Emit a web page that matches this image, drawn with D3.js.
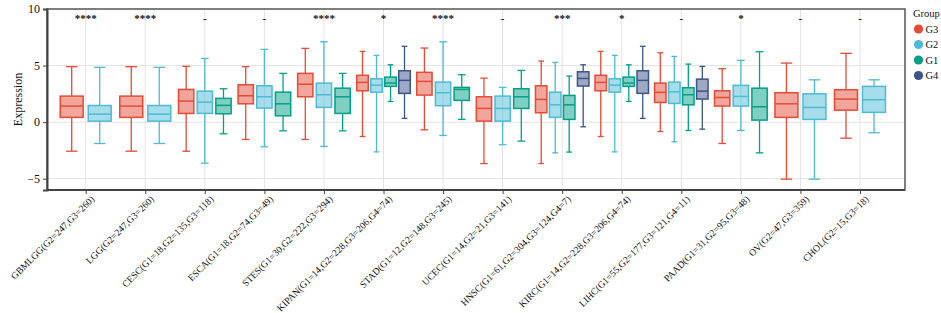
<!DOCTYPE html>
<html><head><meta charset="utf-8">
<script src="https://cdn.jsdelivr.net/npm/d3@7"></script>
<style>body{margin:0;background:#fff}svg{display:block}text{font-family:"Liberation Serif","DejaVu Serif",serif;fill:#111}</style>
</head><body><svg id="c" width="941" height="313"></svg>
<script>
const categories = ["GBMLGG(G2=247,G3=260)","LGG(G2=247,G3=260)","CESC(G1=18,G2=135,G3=118)","ESCA(G1=18,G2=74,G3=49)","STES(G1=30,G2=222,G3=294)","KIPAN(G1=14,G2=228,G3=206,G4=74)","STAD(G1=12,G2=148,G3=245)","UCEC(G1=14,G2=21,G3=141)","HNSC(G1=61,G2=304,G3=124,G4=7)","KIRC(G1=14,G2=228,G3=206,G4=74)","LIHC(G1=55,G2=177,G3=121,G4=11)","PAAD(G1=31,G2=95,G3=48)","OV(G2=47,G3=359)","CHOL(G2=15,G3=18)"];
const significance = ["****","****","-","-","****","*","****","-","***","*","-","*","-","-"];
const groups = ["G3","G2","G1","G4"];
const groupColors = ["#E64B35","#4DBBD5","#00A087","#3C5488"];
// [whisker low, Q1, median, Q3, whisker high]
const g3Stats = [
 [-2.57,0.42,1.42,2.30,4.90],[-2.57,0.42,1.42,2.30,4.90],[-2.57,0.77,1.86,2.89,4.93],[-1.53,1.62,2.33,3.30,4.90],
 [-1.53,2.24,3.35,4.31,6.52],[-1.27,2.77,3.51,4.14,6.25],[-0.68,2.39,3.60,4.40,6.55],[-3.66,0.09,1.21,2.24,3.89],
 [-3.66,0.83,2.01,3.21,5.40],[-1.27,2.77,3.51,4.14,6.25],[-0.83,1.74,2.63,3.45,6.13],[-1.89,1.42,2.18,2.77,4.72],
 [-5.04,0.42,1.62,2.60,5.22],[-1.42,1.06,2.04,2.86,6.08]];
const g2Stats = [
 [-1.89,0.09,0.71,1.47,4.84],[-1.89,0.09,0.71,1.47,4.84],[-3.63,0.77,1.77,2.74,5.63],[-2.18,1.24,2.24,3.21,6.43],
 [-2.15,1.30,2.42,3.45,7.10],[-2.63,2.65,3.27,3.83,5.90],[-1.18,1.45,2.60,3.54,7.10],[-2.00,0.09,1.21,2.30,3.07],
 [-2.72,0.42,1.53,2.65,5.28],[-2.63,2.65,3.27,3.83,5.90],[-1.74,1.65,2.68,3.54,5.81],[-0.74,1.42,2.27,3.25,5.46],
 [-5.04,0.24,1.30,2.50,3.74],[-0.94,0.86,1.98,3.16,3.74]];
const g1Stats = [
 null,null,[-1.03,0.74,1.48,2.10,2.95],[-0.77,0.56,1.62,2.65,4.31],
 [-0.77,0.77,2.24,3.00,4.31],[1.83,3.16,3.45,3.98,5.07],[0.24,1.92,2.89,3.07,4.19],[-1.68,1.21,2.24,2.95,4.57],
 [-2.65,0.24,1.53,2.36,4.07],[1.83,3.16,3.45,3.98,5.07],[-0.74,1.53,2.42,3.04,5.13],[-2.72,0.18,1.36,3.00,6.22],
 null,null];
const g4Stats = [
 null,null,null,null,null,[0.33,2.54,3.69,4.54,6.70],null,null,
 [-0.41,3.19,3.86,4.45,5.07],[0.33,2.54,3.69,4.54,6.70],[-0.62,2.04,2.74,3.80,4.93],null,null,null];
const yTicks = [-5,0,5,10];
const allStats = [g3Stats,g2Stats,g1Stats,g4Stats];

const svg = d3.select("#c");
const L=47,R=905,T=9,B=190;
const x = d3.scalePoint().domain(categories).range([85.7,860]);
const y = d3.scaleLinear().domain([-6,10]).range([B,T]);

// grid
svg.append("g").selectAll("line").data(yTicks.filter(d=>d<10)).join("line")
 .attr("x1",L).attr("x2",R).attr("y1",d=>y(d)).attr("y2",d=>y(d)).attr("stroke","#e3e3e3").attr("stroke-width",1);
svg.append("g").selectAll("line").data(categories).join("line")
 .attr("x1",d=>x(d)).attr("x2",d=>x(d)).attr("y1",T).attr("y2",B).attr("stroke","#e3e3e3").attr("stroke-width",1);
// frame
svg.append("rect").attr("x",L).attr("y",T).attr("width",R-L).attr("height",B-T).attr("fill","none").attr("stroke","#555").attr("stroke-width",1.5);

// boxes
const dodge = 56;
categories.forEach((c,i)=>{
  const present = [];
  allStats.forEach((s,g)=>{ if(s[i]) present.push(g); });
  const n = present.length, slot = dodge/n, bw = slot*0.82;
  present.forEach((g,k)=>{
    const s = allStats[g][i], col = groupColors[g];
    const cx = x(c) - dodge/2 + slot*(k+0.5);
    const gg = svg.append("g");
    gg.append("line").attr("x1",cx).attr("x2",cx).attr("y1",y(s[0])).attr("y2",y(s[1])).attr("stroke",col).attr("stroke-width",1.3);
    gg.append("line").attr("x1",cx).attr("x2",cx).attr("y1",y(s[3])).attr("y2",y(s[4])).attr("stroke",col).attr("stroke-width",1.3);
    [s[0],s[4]].forEach(v=>gg.append("line").attr("x1",cx-bw/4).attr("x2",cx+bw/4).attr("y1",y(v)).attr("y2",y(v)).attr("stroke",col).attr("stroke-width",1.3));
    gg.append("rect").attr("x",cx-bw/2).attr("width",bw).attr("y",y(s[3])).attr("height",y(s[1])-y(s[3]))
      .attr("fill",col).attr("fill-opacity",0.5).attr("stroke",col).attr("stroke-width",1.5);
    gg.append("line").attr("x1",cx-bw/2).attr("x2",cx+bw/2).attr("y1",y(s[2])).attr("y2",y(s[2])).attr("stroke",col).attr("stroke-width",1.5);
  });
});

// significance
svg.append("g").selectAll("text").data(categories).join("text")
 .attr("x",d=>x(d)).attr("y",(d,i)=>significance[i]==="-"?22:22).attr("text-anchor","middle")
 .style("font-size","11px").style("font-weight","bold").text((d,i)=>significance[i]);

// axes
const ya = svg.append("g").attr("transform",`translate(${L},0)`).call(d3.axisLeft(y).tickValues(yTicks).tickSize(4).tickFormat(d3.format("")));
ya.select(".domain").attr("stroke","#444").attr("stroke-width",2);
ya.selectAll("line").attr("stroke","#444");
ya.selectAll("text").style("font-size","12px").style("font-family","Liberation Serif").attr("fill","#111");
const xa = svg.append("g").attr("transform",`translate(0,${B})`).call(d3.axisBottom(x).tickSize(4));
xa.select(".domain").attr("d",`M${L},0H${R}`).attr("stroke","#444").attr("stroke-width",2);
xa.selectAll("line").attr("stroke","#444");
xa.selectAll("text").style("font-size","9.6px").style("font-family","Liberation Serif").attr("fill","#111")
 .attr("text-anchor","end").attr("transform","translate(4,5) rotate(-45)").attr("dy","0.5em").attr("y",2).attr("x",0);

svg.append("text").attr("transform",`translate(22,${(T+B)/2}) rotate(-90)`).attr("text-anchor","middle").style("font-size","12px").text("Expression");

// legend
const lg = svg.append("g").attr("transform","translate(913,0)");
lg.append("text").attr("x",0).attr("y",17).style("font-size","10.5px").text("Group");
groups.forEach((g,i)=>{
  lg.append("circle").attr("cx",5.5).attr("cy",29+i*15.5).attr("r",4.6).attr("fill",groupColors[i]);
  lg.append("text").attr("x",12.5).attr("y",29+i*15.5).attr("dy","0.35em").style("font-size","10.5px").text(g);
});
</script></body></html>
